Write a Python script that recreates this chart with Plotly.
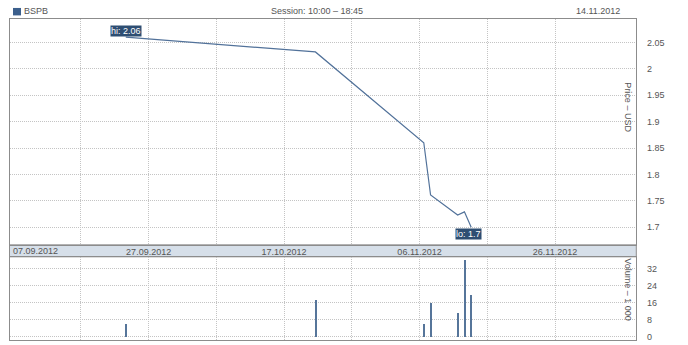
import plotly.graph_objects as go

W, H = 688, 345

# ---- data ----
trade_dates = ["2012-09-24", "2012-10-22", "2012-11-07", "2012-11-08",
               "2012-11-12", "2012-11-13", "2012-11-14"]
prices = [2.06, 2.032, 1.86, 1.761, 1.723, 1.729, 1.70]
volumes = [5.8, 17.2, 6.0, 16.0, 11.0, 35.9, 19.5]   # thousands

grid_dates = ["2012-09-17", "2012-09-27", "2012-10-07", "2012-10-17",
              "2012-10-27", "2012-11-06", "2012-11-16", "2012-11-26"]
grid_labels = ["", "27.09.2012", "", "17.10.2012", "", "06.11.2012", "", "26.11.2012"]
first_label = "07.09.2012"

price_ticks = [1.7, 1.75, 1.8, 1.85, 1.9, 1.95, 2.0, 2.05]
price_tick_text = ["1.7", "1.75", "1.8", "1.85", "1.9", "1.95", "2", "2.05"]
vol_ticks = [0, 8, 16, 24, 32]

symbol = "BSPB"
session = "Session: 10:00 – 18:45"
today = "14.11.2012"

# ---- geometry helpers ----
def px(x):
    return x / W

def py(y):
    return 1 - y / H

L, R = 9.5, 636.3
P_TOP, P_BOT = 19, 246.3
V_TOP, V_BOT = 258.3, 341.7

FONT = dict(family="Liberation Sans, Arial, sans-serif", size=9, color="#555555")
GRID = "#c4c4c4"
GDASH = "1px,1px"
FRAME = "#8c8c8c"
LINE_C = "#52729a"

grid_pos = [d + "T09:00" for d in grid_dates]
xrange_ = ["2012-09-06T20:00", "2012-12-08T09:00"]

fig = go.Figure()
fig.add_trace(go.Scatter(x=trade_dates, y=prices, mode="lines",
                         line=dict(color=LINE_C, width=1.2),
                         xaxis="x", yaxis="y", hoverinfo="skip"))
fig.add_trace(go.Bar(x=trade_dates, y=volumes, width=0.22 * 86400000,
                     marker=dict(color="#56759a", line=dict(width=0)),
                     xaxis="x2", yaxis="y2", hoverinfo="skip"))

hi_i = prices.index(max(prices))
lo_i = prices.index(min(prices))
box = dict(bgcolor="#2e4e72", font=dict(family=FONT["family"], size=9, color="white"),
           showarrow=False, borderpad=0)
fig.add_annotation(x=trade_dates[hi_i], y=prices[hi_i], xref="x", yref="y",
                   text=f"hi: {prices[hi_i]:g}", yanchor="bottom", yshift=0, **box)
fig.add_annotation(x=trade_dates[lo_i], y=prices[lo_i], xref="x", yref="y",
                   text=f"lo: {prices[lo_i]:g}", yanchor="top", yshift=-1, xshift=-3, **box)

# header
fig.add_shape(type="rect", xref="paper", yref="paper",
              x0=px(13), x1=px(21), y0=py(15.5), y1=py(8),
              fillcolor="#3b5f8c", line=dict(width=0))
fig.add_annotation(x=px(22), y=py(11.5), xref="paper", yref="paper", text=symbol,
                   xanchor="left", yanchor="middle", showarrow=False, font=FONT)
fig.add_annotation(x=px(317), y=py(11.5), xref="paper", yref="paper", text=session,
                   xanchor="center", yanchor="middle", showarrow=False, font=FONT)
fig.add_annotation(x=px(622), y=py(11.5), xref="paper", yref="paper", text=today,
                   xanchor="right", yanchor="middle", showarrow=False, font=FONT)

# date band
fig.add_shape(type="rect", xref="paper", yref="paper",
              x0=px(L), x1=px(R), y0=py(V_TOP), y1=py(P_BOT),
              fillcolor="#d6dfe9", line=dict(color=FRAME, width=1), layer="below")
fig.add_annotation(x=px(10.5), y=py(252.3), xref="paper", yref="paper", text=first_label,
                   xanchor="left", yanchor="middle", showarrow=False, font=FONT)

# axis titles inside plot areas
fig.add_annotation(x=px(628), y=py(108), xref="paper", yref="paper", text="Price – USD",
                   textangle=90, xanchor="center", yanchor="middle",
                   showarrow=False, font=FONT)
fig.add_annotation(x=px(628), y=py(291), xref="paper", yref="paper", text="Volume – 1 000",
                   textangle=90, xanchor="center", yanchor="middle",
                   showarrow=False, font=FONT)

common_x = dict(type="date", range=xrange_, domain=[px(L), px(R)],
                tickvals=grid_pos, showgrid=True, gridcolor=GRID, griddash=GDASH,
                gridwidth=1, showline=True, mirror=True, linecolor=FRAME, linewidth=1,
                ticks="", zeroline=False, tickfont=FONT, fixedrange=True)

fig.update_layout(
    width=W, height=H, margin=dict(l=0, r=0, t=0, b=0),
    paper_bgcolor="white", plot_bgcolor="white", showlegend=False,
    bargap=0,
    xaxis=dict(**common_x, ticktext=grid_labels, ticklabelstandoff=-2),
    xaxis2=dict(**common_x, ticktext=[""] * len(grid_pos), anchor="y2", matches="x"),
    yaxis=dict(domain=[py(P_BOT), py(P_TOP)], range=[1.6665, 2.0946], side="right",
               tickvals=price_ticks, ticktext=price_tick_text, showgrid=True,
               gridcolor=GRID, griddash=GDASH, showline=True, mirror=True,
               linecolor=FRAME, ticks="", ticklabelstandoff=8, tickfont=FONT,
               zeroline=False, anchor="x"),
    yaxis2=dict(domain=[py(V_BOT), py(V_TOP)], range=[-1.5, 37.5], side="right",
                tickvals=vol_ticks, showgrid=True, gridcolor=GRID, griddash=GDASH,
                showline=True, mirror=True, linecolor=FRAME, ticks="",
                ticklabelstandoff=8, tickfont=FONT, zeroline=False, anchor="x2"),
)

fig.write_html("out.html")
